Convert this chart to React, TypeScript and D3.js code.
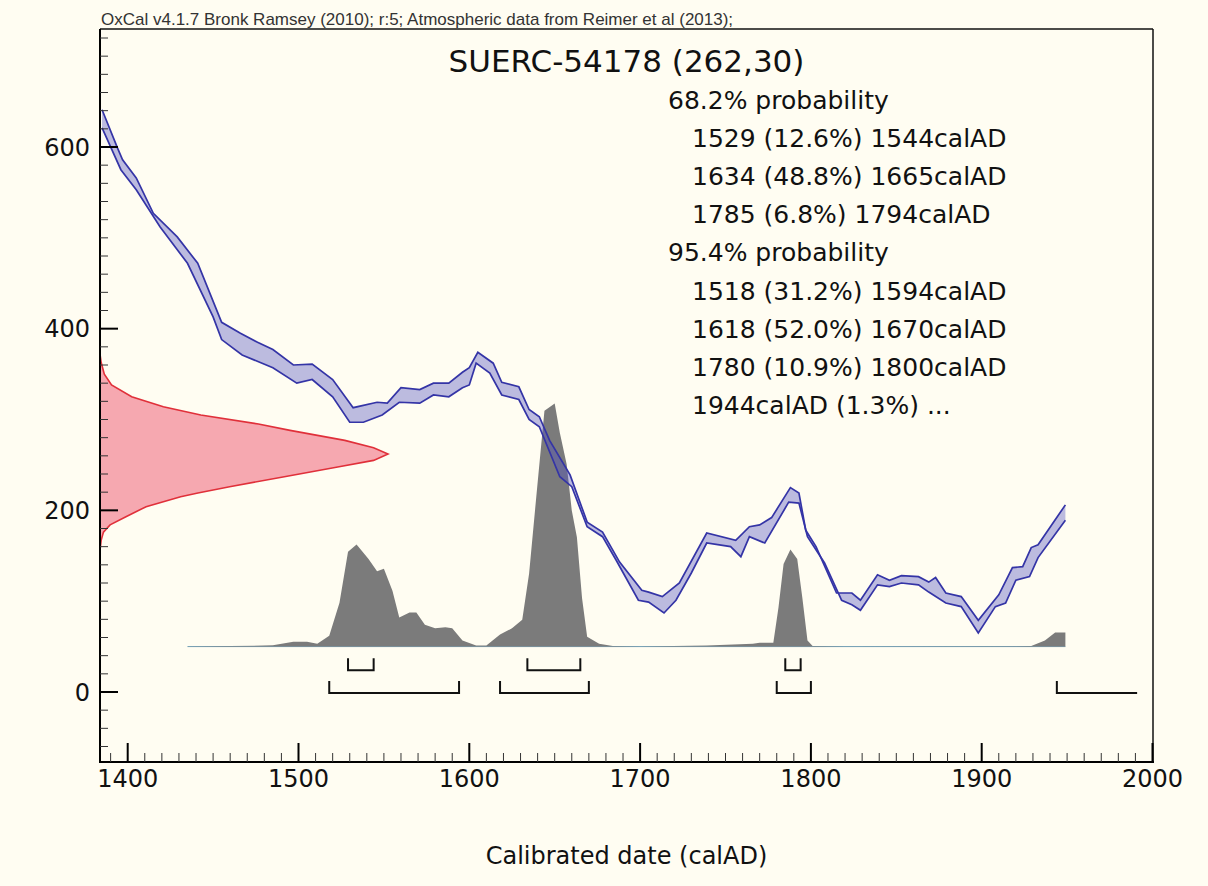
import * as d3 from "d3";

// OxCal header + sample
const headerText = "OxCal v4.1.7 Bronk Ramsey (2010); r:5; Atmospheric data from Reimer et al (2013);";
const sampleName = "SUERC-54178";
const c14Age = 262;
const c14Error = 30;

// calibration curve band, [calAD, BP]
const calUpper = [
  [1385, 641], [1394, 599], [1397, 586], [1405, 566], [1415, 527], [1429, 501], [1441, 472],
  [1455, 407], [1466, 395], [1476, 385], [1485, 377], [1497, 360], [1508, 361], [1520, 344],
  [1532, 313], [1546, 319], [1552, 318], [1560, 335], [1571, 333], [1579, 340], [1588, 340],
  [1596, 352], [1600, 357], [1605, 374], [1614, 362], [1619, 341], [1629, 336], [1635, 311],
  [1641, 303], [1647, 277], [1659, 239], [1669, 187], [1678, 176], [1688, 143], [1701, 112],
  [1705, 110], [1713, 105], [1723, 120], [1739, 175], [1756, 167], [1764, 182], [1770, 184],
  [1777, 192], [1788, 225], [1793, 219], [1797, 178], [1803, 160], [1815, 109], [1824, 109],
  [1829, 101], [1839, 129], [1846, 123], [1853, 128], [1863, 127], [1869, 121], [1873, 126],
  [1879, 109], [1888, 105], [1898, 79], [1910, 107], [1918, 137], [1924, 138], [1929, 159],
  [1933, 162], [1949, 206],
];
const calLower = [
  [1385, 621], [1396, 575], [1405, 553], [1419, 512], [1435, 472], [1450, 413], [1455, 388],
  [1467, 371], [1485, 357], [1499, 340], [1508, 344], [1520, 325], [1530, 297], [1538, 297],
  [1549, 305], [1559, 319], [1571, 318], [1579, 327], [1588, 325], [1596, 335], [1600, 338],
  [1604, 362], [1612, 351], [1619, 327], [1629, 322], [1635, 300], [1641, 292], [1653, 237],
  [1660, 226], [1669, 182], [1678, 171], [1686, 145], [1699, 101], [1705, 99], [1714, 87],
  [1721, 101], [1730, 131], [1739, 164], [1753, 160], [1759, 149], [1764, 171], [1773, 164],
  [1787, 209], [1793, 208], [1798, 171], [1808, 142], [1818, 101], [1824, 96], [1829, 90],
  [1839, 118], [1846, 116], [1853, 120], [1863, 118], [1869, 110], [1879, 98], [1888, 94],
  [1898, 65], [1908, 94], [1914, 98], [1920, 123], [1928, 127], [1933, 148], [1949, 189],
];

// radiocarbon date likelihood, [BP, relative density]
const dateDensity = [
  [372, 0], [363, 0.004], [350, 0.015], [338, 0.04], [325, 0.11], [314, 0.22], [305, 0.35],
  [295, 0.55], [288, 0.66], [277, 0.85], [269, 0.95], [262, 1], [255, 0.95], [248, 0.83],
  [237, 0.64], [226, 0.45], [219, 0.34], [215, 0.28], [204, 0.16], [193, 0.09], [184, 0.035],
  [176, 0.012], [167, 0.004], [156, 0],
];

// calibrated distribution, [calAD, relative probability]
const calibrated = [
  [1435, 0], [1460, 0.002], [1485, 0.005], [1497, 0.02], [1505, 0.02], [1511, 0.012],
  [1518, 0.045], [1524, 0.18], [1529, 0.39], [1534, 0.42], [1541, 0.36], [1546, 0.31],
  [1550, 0.32], [1555, 0.23], [1559, 0.12], [1565, 0.14], [1569, 0.14], [1574, 0.09],
  [1580, 0.075], [1586, 0.08], [1590, 0.075], [1596, 0.025], [1604, 0.004], [1610, 0.004],
  [1618, 0.05], [1625, 0.075], [1631, 0.11], [1635, 0.3], [1639, 0.6], [1644, 0.97],
  [1650, 1.0], [1653, 0.88], [1657, 0.75], [1660, 0.56], [1663, 0.45], [1666, 0.2],
  [1669, 0.04], [1676, 0.012], [1684, 0.002], [1700, 0], [1739, 0.004], [1766, 0.012],
  [1770, 0.016], [1778, 0.016], [1781, 0.16], [1784, 0.34], [1788, 0.4], [1792, 0.36],
  [1795, 0.2], [1798, 0.025], [1801, 0.002], [1820, 0], [1929, 0.002], [1937, 0.025],
  [1943, 0.058], [1949, 0.058],
];

const range68 = [
  { from: 1529, to: 1544, pct: 12.6 },
  { from: 1634, to: 1665, pct: 48.8 },
  { from: 1785, to: 1794, pct: 6.8 },
];
const range95 = [
  { from: 1518, to: 1594, pct: 31.2 },
  { from: 1618, to: 1670, pct: 52.0 },
  { from: 1780, to: 1800, pct: 10.9 },
];
// open ended range (runs off the end of the curve)
const openRange = { from: 1944, to: 1991, pct: 1.3 };

const yMajor = [0, 200, 400, 600];
const xMajor = [1400, 1500, 1600, 1700, 1800, 1900, 2000];
const xLabel = "Calibrated date (calAD)";

const FONT = "'DejaVu Sans', sans-serif";
const BG = "#fffdf2";

export default function App() {
  const W = 1208;
  const H = 886;
  const frame = { left: 100, top: 29, right: 1153, bottom: 762 };

  const x = d3.scaleLinear().domain([1400, 2000]).range([127.7, 1152.5]);
  const y = d3.scaleLinear().domain([0, 600]).range([692, 147]);
  const redW = d3.scaleLinear().domain([0, 1]).range([frame.left, frame.left + 288]);
  const base = y(50);
  const prob = d3.scaleLinear().domain([0, 1]).range([base, base - 243]);

  const xMinor = d3.range(1390, 2001, 10).filter((d) => d % 100 !== 0);
  const yMinor = d3.range(-60, 721, 20).filter((d) => d % 200 !== 0);

  const edge = d3.line<number[]>().x((d) => x(d[0])).y((d) => y(d[1]));
  const band = edge([...calUpper, ...calLower.slice().reverse()]) + "Z";

  const redArea = d3.area<number[]>().y((d) => y(d[0])).x0(frame.left).x1((d) => redW(d[1]));
  const redLine = d3.line<number[]>().x((d) => redW(d[1])).y((d) => y(d[0]));

  const calArea = d3.area<number[]>().x((d) => x(d[0])).y0(base).y1((d) => prob(d[1]));

  const y68 = y(24);
  const y95 = y(-1);
  const tickH = 12;

  const textX = 668;
  const lines = [
    { t: "68.2% probability", ind: 0 },
    ...range68.map((r) => ({ t: `${r.from} (${r.pct.toFixed(1)}%) ${r.to}calAD`, ind: 1 })),
    { t: "95.4% probability", ind: 0 },
    ...range95.map((r) => ({ t: `${r.from} (${r.pct.toFixed(1)}%) ${r.to}calAD`, ind: 1 })),
    { t: `${openRange.from}calAD (${openRange.pct.toFixed(1)}%) ...`, ind: 1 },
  ];

  return (
    <div>
      <style>{`body{margin:0;background:${BG}}`}</style>
      <svg width={W} height={H} style={{ display: "block", fontFamily: FONT }}>
        <rect width={W} height={H} fill={BG} />
        <text x={101} y={25} fontSize={17} fill="#333" fontFamily="'Liberation Sans', Arial, sans-serif">{headerText}</text>

        {/* red likelihood of the radiocarbon date */}
        <path d={redArea(dateDensity) || ""} fill="#f6a8b0" />
        <path d={redLine(dateDensity) || ""} fill="none" stroke="#e0303a" strokeWidth={1.6} />

        {/* calibrated distribution */}
        <line x1={x(calibrated[0][0])} x2={x(calibrated[calibrated.length - 1][0])} y1={base} y2={base}
          stroke="#6f9db4" strokeWidth={1} />
        <path d={calArea(calibrated) || ""} fill="#7b7b7b" />

        {/* calibration curve */}
        <path d={band} fill="#5050c0" fillOpacity={0.38} stroke="none" />
        <path d={edge(calUpper) || ""} fill="none" stroke="#3434a6" strokeWidth={1.7} />
        <path d={edge(calLower) || ""} fill="none" stroke="#3434a6" strokeWidth={1.7} />

        {/* ranges */}
        {range68.map((r, i) => (
          <path key={`r68-${i}`}
            d={`M${x(r.from)},${y68 - tickH}V${y68}H${x(r.to)}V${y68 - tickH}`}
            fill="none" stroke="#111" strokeWidth={2} />
        ))}
        {range95.map((r, i) => (
          <path key={`r95-${i}`}
            d={`M${x(r.from)},${y95 - tickH}V${y95}H${x(r.to)}V${y95 - tickH}`}
            fill="none" stroke="#111" strokeWidth={2} />
        ))}
        <path d={`M${x(openRange.from)},${y95 - tickH}V${y95}H${x(openRange.to)}`}
          fill="none" stroke="#111" strokeWidth={2} />

        {/* frame */}
        <line x1={frame.left} x2={frame.right} y1={frame.top} y2={frame.top} stroke="#111" strokeWidth={1.5} />
        <line x1={frame.right} x2={frame.right} y1={frame.top} y2={frame.bottom} stroke="#111" strokeWidth={1.5} />
        <line x1={frame.left} x2={frame.left} y1={frame.top} y2={frame.bottom + 1} stroke="#000" strokeWidth={2} />
        <line x1={frame.left - 1} x2={frame.right + 1} y1={frame.bottom} y2={frame.bottom} stroke="#000" strokeWidth={2} />

        {/* y ticks */}
        {yMinor.map((v) => (
          <line key={`ym-${v}`} x1={frame.left} x2={frame.left + 8} y1={y(v)} y2={y(v)} stroke="#333" strokeWidth={1} />
        ))}
        {yMajor.map((v) => (
          <g key={`yM-${v}`}>
            <line x1={frame.left} x2={frame.left + 18} y1={y(v)} y2={y(v)} stroke="#000" strokeWidth={2} />
            <text x={90} y={y(v)} dy="0.36em" textAnchor="end" fontSize={24} fill="#111">{v}</text>
          </g>
        ))}

        {/* x ticks */}
        {xMinor.map((v) => (
          <line key={`xm-${v}`} x1={x(v)} x2={x(v)} y1={frame.bottom} y2={frame.bottom - 9} stroke="#333" strokeWidth={1} />
        ))}
        {xMajor.map((v) => (
          <g key={`xM-${v}`}>
            <line x1={x(v)} x2={x(v)} y1={frame.bottom} y2={frame.bottom - 19} stroke="#000" strokeWidth={2} />
            <text x={x(v)} y={787} textAnchor="middle" fontSize={24} fill="#111">{v}</text>
          </g>
        ))}

        <text x={(frame.left + frame.right) / 2} y={864} textAnchor="middle" fontSize={24} fill="#111">{xLabel}</text>

        {/* title and summary */}
        <text x={(frame.left + frame.right) / 2} y={72} textAnchor="middle" fontSize={31} fill="#111">
          {`${sampleName} (${c14Age},${c14Error})`}
        </text>
        {lines.map((l, i) => (
          <text key={`t-${i}`} x={textX + l.ind * 24} y={109 + i * 38.1} fontSize={25} fill="#111">{l.t}</text>
        ))}
      </svg>
    </div>
  );
}
